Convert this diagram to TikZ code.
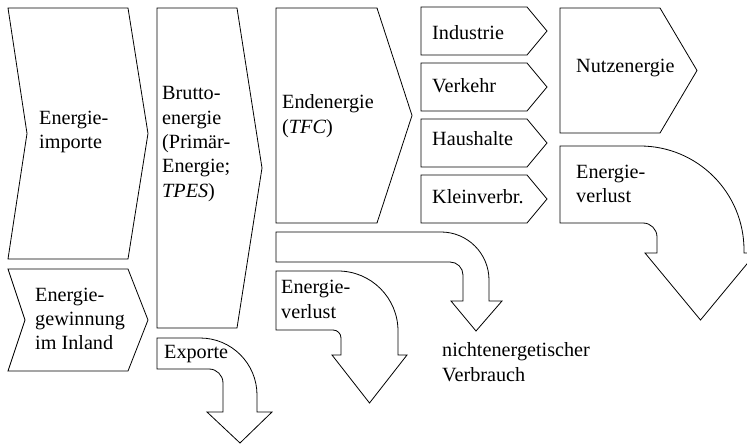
\documentclass[tikz,border=0pt]{standalone}
\usepackage{fontspec}
\setmainfont{Liberation Serif}
\newfontfamily\lblfont{Liberation Serif}
\begin{document}
\begin{tikzpicture}[x=1pt,y=-1pt,
  blk/.style={draw,fill=white,line width=0.8pt,line join=miter},
  lbl/.style={anchor=west,align=left,inner sep=0pt,font=\lblfont\fontsize{20.2}{24.3}\selectfont}]
\useasboundingbox (0,0) rectangle (747,446);
\clip (0,0) rectangle (747,446);
% Aufkommen
\draw[blk] (8,8) -- (128,8) -- (148,133.5) -- (128,259) -- (8,259) -- (27,133.5) -- cycle;
\draw[blk] (8,269) -- (128,269) -- (148,320) -- (128,371) -- (8,371) -- (25,320) -- cycle;
\node[lbl] (importe) at (39,132) {Energie-\\importe};
\node[lbl] (inland) at (35,319) {Energie-\\gewinnung\\im Inland};
% Bruttoenergie und Exporte
\draw[blk] (157,8) -- (237,8) -- (262,168) -- (237,328) -- (157,328) -- cycle;
\draw[blk] (157,338) -- (200,338) arc (270:360:57) -- (257,412) -- (272,412) -- (240,443) -- (207,412) -- (223,412) -- (223,383) arc (0:-90:14) -- (157,369) -- cycle;
\node[lbl] (brutto) at (162,144) {Brutto-\\energie\\(Primär-\\Energie;\\\textit{TPES})};
\node[lbl] (exporte) at (164,354) {Exporte};
% Endenergie
\draw[blk] (276,8) -- (377,8) -- (412,115.5) -- (377,223) -- (276,223) -- cycle;
\draw[blk] (276,232) -- (441,232) arc (270:360:48) -- (489,301) -- (502,301) -- (476,331) -- (451,301) -- (463,301) -- (463,275) arc (0:-90:13) -- (276,262) -- cycle;
\draw[blk] (276,271) -- (338,271) arc (270:360:60) -- (398,355) -- (407,355) -- (369.5,403) -- (332,355) -- (341,355) -- (341,338) arc (0:-90:8) -- (276,330) -- cycle;
\node[lbl] (endenergie) at (282,116) {Endenergie\\(\textit{TFC})};
\node[lbl] (verlustM) at (281,299.5) {Energie-\\verlust};
\node[lbl] (nichtenerg) at (442,362) {nichtenergetischer\\Verbrauch};
% Sektoren
\draw[blk] (421,7) -- (527,7) -- (547,31) -- (527,55) -- (421,55) -- cycle;
\draw[blk] (421,63) -- (527,63) -- (547,87) -- (527,111) -- (421,111) -- cycle;
\draw[blk] (421,119) -- (527,119) -- (547,143) -- (527,167) -- (421,167) -- cycle;
\draw[blk] (421,175) -- (527,175) -- (547,199) -- (527,223) -- (421,223) -- cycle;
\node[lbl] (industrie) at (432,33) {Industrie};
\node[lbl] (verkehr) at (432,86) {Verkehr};
\node[lbl] (haushalte) at (432,139) {Haushalte};
\node[lbl] (kleinverbr) at (432,197) {Kleinverbr.};
% Nutzenergie
\draw[blk] (560,8) -- (660,8) -- (697,70.5) -- (660,133) -- (560,133) -- cycle;
\draw[blk] (560,146) -- (640,146) arc (270:360:104) -- (744,253) -- (756,253) -- (700.5,320) -- (645,253) -- (657,253) -- (657,237) arc (0:-90:14) -- (560,223) -- cycle;
\node[lbl] (nutz) at (576,68) {Nutzenergie};
\node[lbl] (verlustR) at (576,184) {Energie-\\verlust};
\end{tikzpicture}
\end{document}
